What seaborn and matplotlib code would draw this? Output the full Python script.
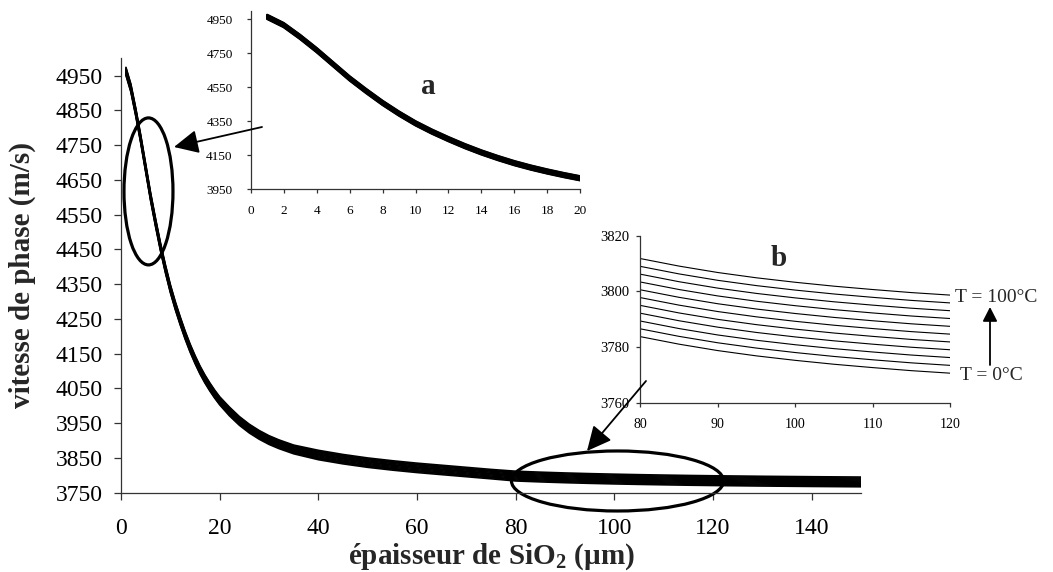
import matplotlib
matplotlib.use("Agg")
import matplotlib.pyplot as plt
import pandas as pd
import seaborn as sns
from matplotlib.patches import Ellipse, FancyArrowPatch, ArrowStyle

# SiO2 film thickness (µm)
epaisseur = [1, 2, 3, 4, 5, 6, 7, 8, 9, 10, 11, 12, 13, 14, 15, 16, 17, 18, 19, 20,
             22, 24, 26, 28, 30, 32, 35,
             40, 45, 50, 55, 60, 65, 70, 75,
             80, 85, 90, 95, 100, 105, 110, 115, 120, 130, 140, 150]

# phase velocity (m/s) for each temperature
v_0C = [4951, 4903, 4833, 4756, 4673, 4590, 4516, 4446, 4383, 4326, 4277, 4233, 4192, 4155, 4122, 4092, 4066, 4043, 4022, 4003,
        3971, 3944, 3922, 3904, 3889, 3877, 3862,
        3845, 3833, 3823, 3815, 3808, 3802, 3796, 3790,
        3783.8, 3781.1, 3778.8, 3776.9, 3775.3, 3773.9, 3772.7, 3771.6, 3770.7, 3769.2, 3768.0, 3767.0]
v_10C = [4953, 4905, 4835, 4758, 4675, 4592, 4518, 4448, 4385, 4328, 4279, 4235, 4194, 4157, 4124, 4094, 4068, 4045, 4024, 4005,
         3974, 3947, 3925, 3907, 3892, 3880, 3865,
         3848, 3836, 3826, 3818, 3811, 3805, 3799, 3793,
         3786.6, 3783.9, 3781.6, 3779.7, 3778.1, 3776.7, 3775.5, 3774.4, 3773.5, 3772.0, 3770.8, 3769.8]
v_20C = [4956, 4908, 4838, 4761, 4678, 4595, 4521, 4451, 4388, 4331, 4282, 4238, 4197, 4160, 4127, 4097, 4071, 4048, 4027, 4008,
         3976, 3949, 3927, 3909, 3894, 3882, 3867,
         3850, 3838, 3828, 3820, 3813, 3807, 3801, 3795,
         3789.4, 3786.7, 3784.4, 3782.5, 3780.9, 3779.5, 3778.3, 3777.2, 3776.3, 3774.8, 3773.6, 3772.6]
v_30C = [4958, 4910, 4840, 4763, 4680, 4597, 4523, 4453, 4390, 4333, 4284, 4240, 4199, 4162, 4129, 4099, 4073, 4050, 4029, 4010,
         3979, 3952, 3930, 3912, 3897, 3885, 3870,
         3853, 3841, 3831, 3823, 3816, 3810, 3804, 3798,
         3792.2, 3789.5, 3787.2, 3785.3, 3783.7, 3782.3, 3781.1, 3780.0, 3779.1, 3777.6, 3776.4, 3775.4]
v_40C = [4960, 4912, 4842, 4765, 4682, 4599, 4525, 4455, 4392, 4335, 4286, 4242, 4201, 4164, 4131, 4101, 4075, 4052, 4031, 4012,
         3981, 3954, 3932, 3914, 3899, 3887, 3872,
         3856, 3844, 3834, 3826, 3819, 3813, 3807, 3801,
         3795.0, 3792.3, 3790.0, 3788.1, 3786.5, 3785.1, 3783.9, 3782.8, 3781.9, 3780.4, 3779.2, 3778.2]
v_50C = [4963, 4915, 4845, 4768, 4685, 4602, 4528, 4458, 4395, 4338, 4289, 4245, 4204, 4167, 4134, 4104, 4078, 4055, 4034, 4015,
         3984, 3957, 3935, 3917, 3902, 3890, 3875,
         3859, 3847, 3837, 3829, 3822, 3816, 3810, 3804,
         3797.8, 3795.1, 3792.8, 3790.9, 3789.3, 3787.9, 3786.7, 3785.6, 3784.7, 3783.2, 3782.0, 3781.0]
v_60C = [4965, 4917, 4847, 4770, 4687, 4604, 4530, 4460, 4397, 4340, 4291, 4247, 4206, 4169, 4136, 4106, 4080, 4057, 4036, 4017,
         3986, 3959, 3937, 3919, 3904, 3892, 3877,
         3861, 3849, 3839, 3831, 3824, 3818, 3812, 3806,
         3800.6, 3797.9, 3795.6, 3793.7, 3792.1, 3790.7, 3789.5, 3788.4, 3787.5, 3786.0, 3784.8, 3783.8]
v_70C = [4967, 4919, 4849, 4772, 4689, 4606, 4532, 4462, 4399, 4342, 4293, 4249, 4208, 4171, 4138, 4108, 4082, 4059, 4038, 4019,
         3989, 3962, 3940, 3922, 3907, 3895, 3880,
         3864, 3852, 3842, 3834, 3827, 3821, 3815, 3809,
         3803.4, 3800.7, 3798.4, 3796.5, 3794.9, 3793.5, 3792.3, 3791.2, 3790.3, 3788.8, 3787.6, 3786.6]
v_80C = [4969, 4921, 4851, 4774, 4691, 4608, 4534, 4464, 4401, 4344, 4295, 4251, 4210, 4173, 4140, 4110, 4084, 4061, 4040, 4021,
         3991, 3964, 3942, 3924, 3909, 3897, 3882,
         3867, 3855, 3845, 3837, 3830, 3824, 3818, 3812,
         3806.2, 3803.5, 3801.2, 3799.3, 3797.7, 3796.3, 3795.1, 3794.0, 3793.1, 3791.6, 3790.4, 3789.4]
v_90C = [4972, 4924, 4854, 4777, 4694, 4611, 4537, 4467, 4404, 4347, 4298, 4254, 4213, 4176, 4143, 4113, 4087, 4064, 4043, 4024,
         3994, 3967, 3945, 3927, 3912, 3900, 3885,
         3869, 3857, 3847, 3839, 3832, 3826, 3820, 3814,
         3809.0, 3806.3, 3804.0, 3802.1, 3800.5, 3799.1, 3797.9, 3796.8, 3795.9, 3794.4, 3793.2, 3792.2]
v_100C = [4974, 4926, 4856, 4779, 4696, 4613, 4539, 4469, 4406, 4349, 4300, 4256, 4215, 4178, 4145, 4115, 4089, 4066, 4045, 4026,
          3996, 3969, 3947, 3929, 3914, 3902, 3887,
          3872, 3860, 3850, 3842, 3835, 3829, 3823, 3817,
          3811.8, 3809.1, 3806.8, 3804.9, 3803.3, 3801.9, 3800.7, 3799.6, 3798.7, 3797.2, 3796.0, 3795.0]

temperatures = [0, 10, 20, 30, 40, 50, 60, 70, 80, 90, 100]
series = [v_0C, v_10C, v_20C, v_30C, v_40C, v_50C, v_60C, v_70C, v_80C, v_90C, v_100C]

main_xticks = [0, 20, 40, 60, 80, 100, 120, 140]
main_yticks = [3750, 3850, 3950, 4050, 4150, 4250, 4350, 4450, 4550, 4650, 4750, 4850, 4950]
a_xticks = [0, 2, 4, 6, 8, 10, 12, 14, 16, 18, 20]
a_yticks = [3950, 4150, 4350, 4550, 4750, 4950]
b_xticks = [80, 90, 100, 110, 120]
b_yticks = [3760, 3780, 3800, 3820]

df = pd.DataFrame({
    "epaisseur": [e for _ in temperatures for e in epaisseur],
    "vitesse": [v for s in series for v in s],
    "T": [t for t in temperatures for _ in epaisseur],
})

sns.set_theme(style="ticks")
plt.rcParams["font.family"] = ["Liberation Serif", "DejaVu Serif"]
plt.rcParams["mathtext.fontset"] = "custom"
plt.rcParams["mathtext.rm"] = "Liberation Serif"
plt.rcParams["mathtext.bf"] = "Liberation Serif:bold"
plt.rcParams["axes.edgecolor"] = "#333333"
plt.rcParams["xtick.color"] = "#333333"
plt.rcParams["ytick.color"] = "#333333"
plt.rcParams["xtick.labelcolor"] = "black"
plt.rcParams["ytick.labelcolor"] = "black"

W, H = 1053, 572
fig = plt.figure(figsize=(W / 100, H / 100), dpi=100)
fig.patch.set_facecolor("white")


def box(x0, y0, x1, y1):
    """Pixel box (origin top-left) -> figure-fraction rectangle."""
    return [x0 / W, 1 - y1 / H, (x1 - x0) / W, (y1 - y0) / H]


def fp(x, y):
    """Pixel point (origin top-left) -> figure fraction."""
    return (x / W, 1 - y / H)


def style_axes(a, xsize, ysize, tlen, xpad, ypad):
    sns.despine(ax=a)
    for s in ("left", "bottom"):
        a.spines[s].set_linewidth(0.9)
    a.tick_params(axis="both", direction="out", length=tlen, width=0.9)
    a.tick_params(axis="x", pad=xpad, labelsize=xsize)
    a.tick_params(axis="y", pad=ypad, labelsize=ysize)
    a.grid(False)


def draw_curves(a, lw):
    sns.lineplot(data=df, x="epaisseur", y="vitesse", units="T", estimator=None,
                 color="black", lw=lw, ax=a)
    a.set_xlabel("")
    a.set_ylabel("")


# main chart
ax = fig.add_axes(box(121, 58.3, 861, 492.7))
draw_curves(ax, 1.2)
ax.set_xlim(0, 150)
ax.set_ylim(3750, 5000)
ax.set_xticks(main_xticks)
ax.set_yticks(main_yticks)
style_axes(ax, 17, 17, 5, 13.5, 8)
ax.set_xlabel("épaisseur de SiO$_{\\mathbf{2}}$ (µm)", fontsize=21, fontweight="bold")
ax.set_ylabel("vitesse de phase (m/s)", fontsize=21, fontweight="bold")
ax.xaxis.set_label_coords(0.5, -0.112)
ax.yaxis.set_label_coords(-0.115, 0.5)

# inset a: thin films
axa = fig.add_axes(box(250.7, 10.5, 580.3, 189.3))
axa.patch.set_alpha(0)
draw_curves(axa, 1.8)
axa.set_xlim(0, 20)
axa.set_ylim(3950, 5000)
axa.set_xticks(a_xticks)
axa.set_yticks(a_yticks)
style_axes(axa, 9.5, 9.5, 3, 8, 10)

# inset b: thick films, one curve per temperature
axb = fig.add_axes(box(640.3, 235.7, 950, 403))
axb.patch.set_alpha(0)
draw_curves(axb, 0.8)
axb.set_xlim(80, 120)
axb.set_ylim(3760, 3820)
axb.set_xticks(b_xticks)
axb.set_yticks(b_yticks)
style_axes(axb, 10, 10.5, 3, 8, 5)

# highlighted regions on the main curve
ax.add_patch(Ellipse((5.57, 4617), 9.93, 423, fill=False, lw=2.3, ec="black", clip_on=False))
ax.add_patch(Ellipse((100.65, 3783.7), 43, 172.7, fill=False, lw=2.3, ec="black", clip_on=False))

# pointer arrows
big_head = ArrowStyle("-|>", head_length=0.6, head_width=0.29)
for tail, tip in [((262, 127), (174, 147)), ((646, 381), (587, 451))]:
    fig.add_artist(FancyArrowPatch(fp(*tail), fp(*tip), transform=fig.transFigure,
                                   arrowstyle=big_head, mutation_scale=25, lw=1.3,
                                   color="black", shrinkA=0, shrinkB=0))
fig.add_artist(FancyArrowPatch(fp(990, 365), fp(990, 307), transform=fig.transFigure,
                               arrowstyle=ArrowStyle("-|>", head_length=0.43, head_width=0.22),
                               mutation_scale=20, lw=1.3, color="black", shrinkA=0, shrinkB=0))

fig.text(*fp(955, 298), "T = 100°C", fontsize=14, ha="left", va="center")
fig.text(*fp(960, 375), "T = 0°C", fontsize=14, ha="left", va="center")
fig.text(*fp(428, 87), "a", fontsize=21, fontweight="bold", ha="center", va="center")
fig.text(*fp(779, 258), "b", fontsize=21, fontweight="bold", ha="center", va="center")

fig.savefig("out.png", dpi=100)
